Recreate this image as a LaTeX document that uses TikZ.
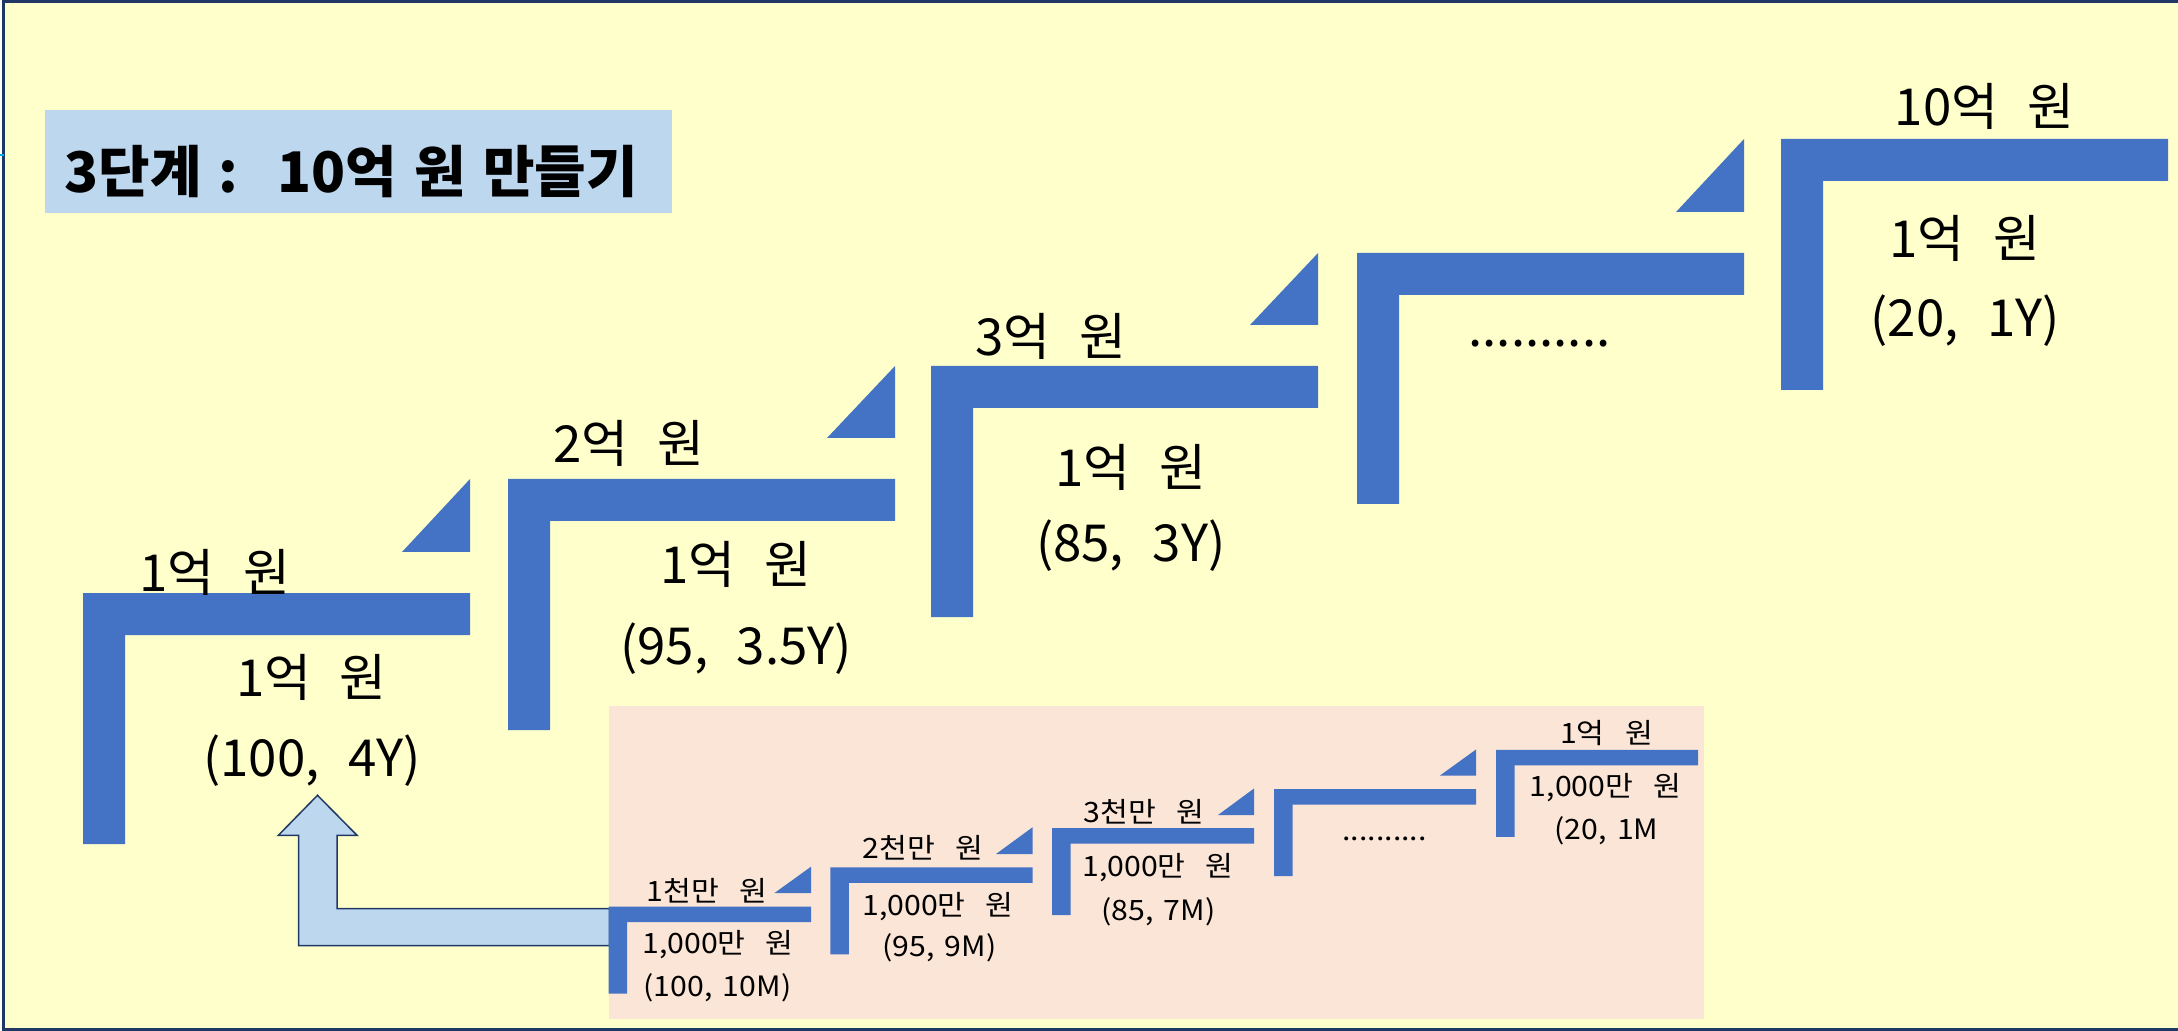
\documentclass[tikz,border=0pt]{standalone}
\usepackage{fontspec}
\setmainfont[WordSpace=1.35]{Noto Sans CJK KR}
\newfontfamily\bigfont[WordSpace=2.5]{Noto Sans CJK KR}
\newfontfamily\smallfont[FakeStretch=1.08,WordSpace=1.5]{Noto Sans CJK KR}
\definecolor{paper}{HTML}{FFFFCC}
\definecolor{navy}{HTML}{203864}
\definecolor{stepblue}{HTML}{4472C4}
\definecolor{paleblue}{HTML}{BDD7EE}
\definecolor{peach}{HTML}{FBE5D6}

\begin{document}
\begin{tikzpicture}
  [
   x=0.5pt,y=-0.5pt,
   bar/.style={fill=stepblue},
   big/.style={inner sep=0pt,anchor=base,font=\bigfont\fontsize{25.5}{30}\selectfont},
   small/.style={inner sep=0pt,anchor=base,font=\smallfont\fontsize{14}{17}\selectfont},
   headline/.style={inner sep=0pt,anchor=base west,font=\fontsize{28}{34}\selectfont\bfseries}
  ]
   \useasboundingbox (0,0) rectangle (2178,1031);
   \fill[white] (0,0) rectangle (2178,1031);
   \draw[line width=1.5pt,draw=navy,fill=paper] (3,2) rectangle (2200,1029);
   \draw[line width=1pt,draw=cyan] (0,155) -- (4,155);

   % title
   \fill[paleblue] (44.6,110) rectangle (672,213.3);
   \node[headline] (title) at (64,193) {3단계 :~ 10억 원 만들기};

   % big stairs
   \fill[bar] (83,844) -- (83,593) -- (470,593) -- (470,635) -- (125,635) -- (125,844) -- cycle;
   \fill[bar] (470,479) -- (470,552) -- (402,552) -- cycle;
   \fill[bar] (508,730) -- (508,479) -- (895,479) -- (895,521) -- (550,521) -- (550,730) -- cycle;
   \fill[bar] (895,366) -- (895,438) -- (827,438) -- cycle;
   \fill[bar] (931,617) -- (931,366) -- (1318,366) -- (1318,408) -- (973,408) -- (973,617) -- cycle;
   \fill[bar] (1318,253) -- (1318,325) -- (1250,325) -- cycle;
   \fill[bar] (1357,504) -- (1357,253) -- (1744,253) -- (1744,295) -- (1399,295) -- (1399,504) -- cycle;
   \fill[bar] (1744,139) -- (1744,212) -- (1676,212) -- cycle;
   \fill[bar] (1781,390) -- (1781,139) -- (2168,139) -- (2168,181) -- (1823,181) -- (1823,390) -- cycle;

   \node[big] (top0) at (215,591.5) {1억 원};
   \node[big] (amt0) at (311.5,696.4) {1억 원};
   \node[big] (par0) at (312,776) {(100, 4Y)};
   \node[big] (top1) at (629,463) {2억 원};
   \node[big] (amt1) at (736,583.4) {1억 원};
   \node[big] (par1) at (736,664) {(95, 3.5Y)};
   \node[big] (top2) at (1050.7,356) {3억 원};
   \node[big] (amt2) at (1130.6,487) {1억 원};
   \node[big] (par2) at (1130.7,561) {(85, 3Y)};
   \node[big] (dots3) at (1539.5,347) {..........};
   \node[big] (top4) at (1984.4,126) {10억 원};
   \node[big] (amt4) at (1965,257.3) {1억 원};
   \node[big] (par4) at (1965.3,336.7) {(20, 1Y)};

   % small stairs
   \fill[peach] (608.5,706) rectangle (1704.4,1019);
   \draw[fill=paleblue,draw=navy,line width=0.75pt] (317.5,795.3) -- (357,835.3) -- (337,835.3) -- (337,908.7)
     -- (609.6,908.7) -- (609.6,945.7) -- (298.5,945.7) -- (298.5,835.3) -- (278.4,835.3) -- cycle;

   \fill[bar] (608.5,993.6) -- (608.5,906.6) -- (811,906.6) -- (811,922.1) -- (627,922.1) -- (627,993.6) -- cycle;
   \fill[bar] (811,866.7) -- (811,893) -- (774.5,893) -- cycle;
   \fill[bar] (830.3,954.4) -- (830.3,867.4) -- (1032.5,867.4) -- (1032.5,882.9) -- (848.8,882.9) -- (848.8,954.4) -- cycle;
   \fill[bar] (1032.5,827.3) -- (1032.5,854) -- (996,854) -- cycle;
   \fill[bar] (1052,915.2) -- (1052,828.2) -- (1254,828.2) -- (1254,843.7) -- (1070.5,843.7) -- (1070.5,915.2) -- cycle;
   \fill[bar] (1254,788.5) -- (1254,815) -- (1218,815) -- cycle;
   \fill[bar] (1274,876) -- (1274,789) -- (1476,789) -- (1476,804.5) -- (1292.5,804.5) -- (1292.5,876) -- cycle;
   \fill[bar] (1476,749.5) -- (1476,775.5) -- (1440,775.5) -- cycle;
   \fill[bar] (1496,836.8) -- (1496,749.8) -- (1698,749.8) -- (1698,765.3) -- (1514.5,765.3) -- (1514.5,836.8) -- cycle;

   \node[small] (stop0) at (707,901.7) {1천만~ 원};
   \node[small] (samt0) at (718,953.3) {1,000만~ 원};
   \node[small] (spar0) at (717.5,996.7) {(100, 10M)};
   \node[small] (stop1) at (922.7,858.3) {2천만~ 원};
   \node[small] (samt1) at (938,915) {1,000만~ 원};
   \node[small] (spar1) at (939.5,956.7) {(95, 9M)};
   \node[small] (stop2) at (1143.7,822.7) {3천만~ 원};
   \node[small] (samt2) at (1158,876) {1,000만~ 원};
   \node[small] (spar2) at (1158.4,920) {(85, 7M)};
   \node[small] (sdots3) at (1384.6,840) {..........};
   \node[small] (stop4) at (1606.5,743.3) {1억~ 원};
   \node[small] (samt4) at (1605.6,796.7) {1,000만~ 원};
   \node[small] (spar4) at (1606.6,839.3) {(20, 1M};

\end{tikzpicture}
\end{document}
